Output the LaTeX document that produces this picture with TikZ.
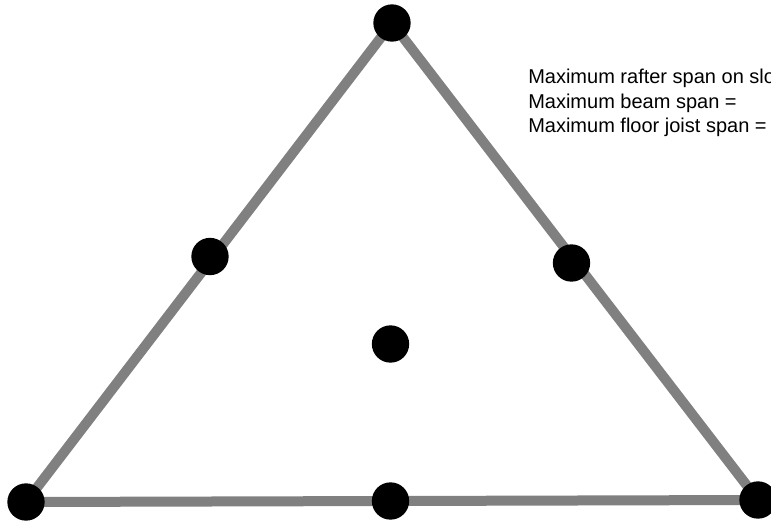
\documentclass[tikz,border=0pt]{standalone}
\usepackage{fontspec}
\setmainfont{Liberation Sans}
\usetikzlibrary{calc}
\definecolor{EdgeGray}{HTML}{808080}
\definecolor{Ink}{HTML}{000000}

\begin{document}
\begin{tikzpicture}[x=0.75pt,y=-0.75pt,
    joint/.style={circle,fill=Ink,minimum size=28pt,inner sep=0pt},
    member/.style={EdgeGray,line width=7.5pt},
    spannote/.style={anchor=base west,font=\fontsize{15}{18}\selectfont,inner sep=0pt}]
        \useasboundingbox (0,0) rectangle (771,525);

        % corners of the truss
        \coordinate (apex) at (392,23);
        \coordinate (left) at (26,502);
        \coordinate (right) at (758,500);
        \draw[member] (apex)--(left)--(right)--cycle;

        \foreach \x/\y/\nm in {
          392/23/top,26/502/bl,758/500/br,
          210/256.5/ml,571.5/263/mr,390.5/501/mb,390.5/344/cen}
          \node[joint] (\nm) at (\x,\y) {};

        \node[spannote] (rafter) at (528,83) {Maximum rafter span on slope =};
        \node[spannote] (beam) at (528,108) {Maximum beam span =};
        \node[spannote] (joist) at (528,132.5) {Maximum floor joist span =};
      \end{tikzpicture}
\end{document}
